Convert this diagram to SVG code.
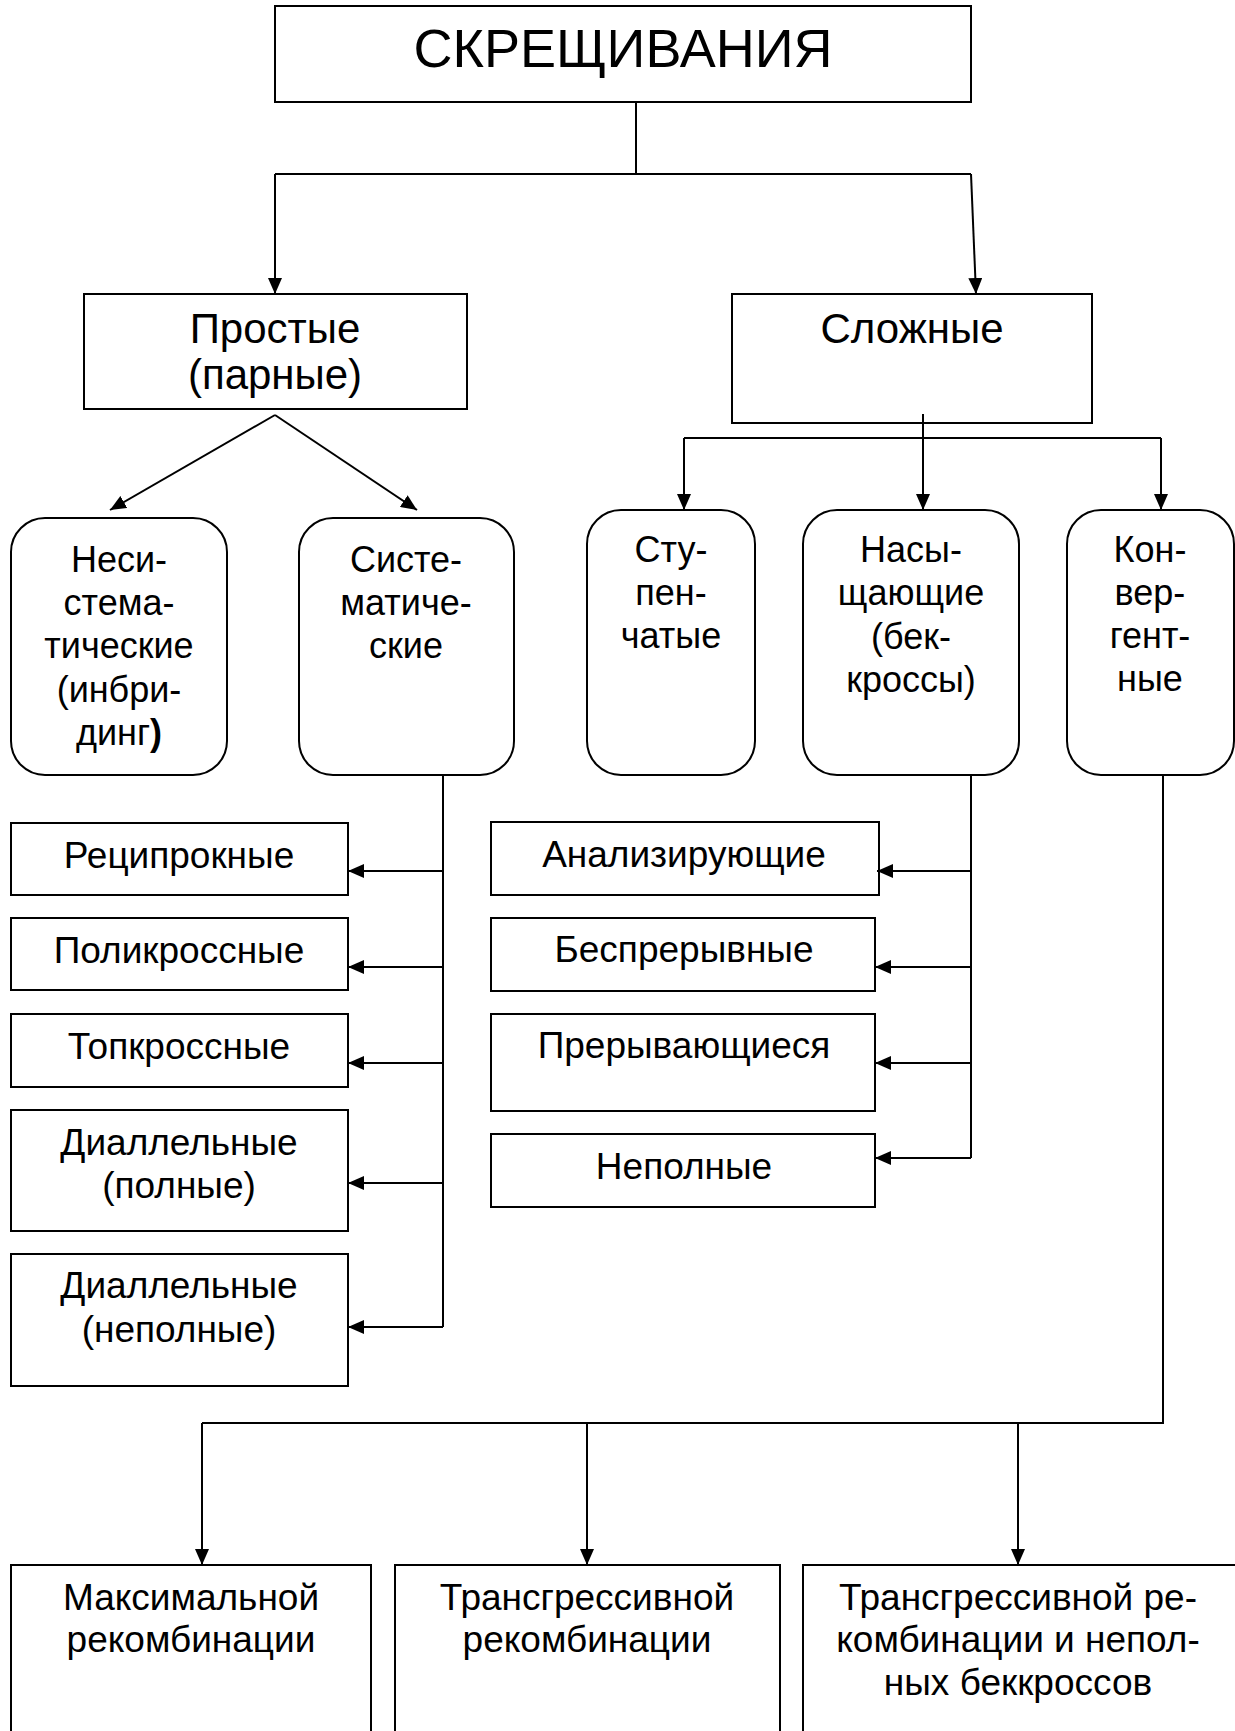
<svg xmlns="http://www.w3.org/2000/svg" width="1235" height="1731" viewBox="0 0 1235 1731">
<style>
.box{fill:#fff;stroke:#000;stroke-width:2}
.t{font-family:"Liberation Sans",Arial,sans-serif;font-size:36px;text-anchor:middle;fill:#000}
.t37{font-size:37px}
.t42{font-size:42px}
.t54{font-size:54px}
.c{fill:none;stroke:#000;stroke-width:2}
</style>
<defs>
<marker id="ah" markerUnits="userSpaceOnUse" markerWidth="16" markerHeight="14" refX="16" refY="7" orient="auto">
<path d="M0,0 L16,7 L0,14 z" fill="#000"/>
</marker>
</defs>
<rect width="1235" height="1731" fill="#fff"/>
<g id="root"><rect class="box" x="275" y="6" width="696" height="96"/><text class="t t54" x="623" y="67">СКРЕЩИВАНИЯ</text></g>
<g id="simple"><rect class="box" x="84" y="294" width="383" height="115"/><text class="t t42" x="275" y="343">Простые</text><text class="t t42" x="275" y="389">(парные)</text></g>
<g id="complex"><rect class="box" x="732" y="294" width="360" height="129"/><text class="t t42" x="912" y="343">Сложные</text></g>
<g id="nonsystematic"><rect class="box" x="11" y="518" width="216" height="257" rx="34" ry="34"/><text class="t" x="119"><tspan x="119" y="572">Неси-</tspan><tspan x="119" y="615">стема-</tspan><tspan x="119" y="658">тические</tspan><tspan x="119" y="702">(инбри-</tspan><tspan x="119" y="745">динг<tspan font-weight="bold">)</tspan></tspan></text></g>
<g id="systematic"><rect class="box" x="299" y="518" width="215" height="257" rx="34" ry="34"/><text class="t" x="406"><tspan x="406" y="572">Систе-</tspan><tspan x="406" y="615">матиче-</tspan><tspan x="406" y="658">ские</tspan></text></g>
<g id="stepwise"><rect class="box" x="587" y="510" width="168" height="265" rx="34" ry="34"/><text class="t" x="671"><tspan x="671" y="562">Сту-</tspan><tspan x="671" y="605">пен-</tspan><tspan x="671" y="648">чатые</tspan></text></g>
<g id="saturating"><rect class="box" x="803" y="510" width="216" height="265" rx="34" ry="34"/><text class="t" x="911"><tspan x="911" y="562">Насы-</tspan><tspan x="911" y="605">щающие</tspan><tspan x="911" y="649">(бек-</tspan><tspan x="911" y="692">кроссы)</tspan></text></g>
<g id="convergent"><rect class="box" x="1067" y="510" width="167" height="265" rx="34" ry="34"/><text class="t" x="1150"><tspan x="1150" y="562">Кон-</tspan><tspan x="1150" y="605">вер-</tspan><tspan x="1150" y="648">гент-</tspan><tspan x="1150" y="691">ные</tspan></text></g>
<g id="reciprocal"><rect class="box" x="11" y="823" width="337" height="72"/><text class="t t37" x="179" y="868">Реципрокные</text></g>
<g id="polycross"><rect class="box" x="11" y="918" width="337" height="72"/><text class="t t37" x="179" y="963">Поликроссные</text></g>
<g id="topcross"><rect class="box" x="11" y="1014" width="337" height="73"/><text class="t t37" x="179" y="1059">Топкроссные</text></g>
<g id="diallel-full"><rect class="box" x="11" y="1110" width="337" height="121"/><text class="t t37" x="179"><tspan x="179" y="1155">Диаллельные</tspan><tspan x="179" y="1198">(полные)</tspan></text></g>
<g id="diallel-partial"><rect class="box" x="11" y="1254" width="337" height="132"/><text class="t t37" x="179"><tspan x="179" y="1298">Диаллельные</tspan><tspan x="179" y="1342">(неполные)</tspan></text></g>
<g id="analyzing"><rect class="box" x="491" y="822" width="388" height="73"/><text class="t t37" x="684" y="867">Анализирующие</text></g>
<g id="continuous"><rect class="box" x="491" y="918" width="384" height="73"/><text class="t t37" x="684" y="962">Беспрерывные</text></g>
<g id="interrupted"><rect class="box" x="491" y="1014" width="384" height="97"/><text class="t t37" x="684" y="1058">Прерывающиеся</text></g>
<g id="incomplete"><rect class="box" x="491" y="1134" width="384" height="73"/><text class="t t37" x="684" y="1179">Неполные</text></g>
<g id="max-recomb"><rect class="box" x="11" y="1565" width="360" height="200"/><text class="t t37" x="191"><tspan x="191" y="1610">Максимальной</tspan><tspan x="191" y="1652">рекомбинации</tspan></text></g>
<g id="transgressive"><rect class="box" x="395" y="1565" width="385" height="200"/><text class="t t37" x="587"><tspan x="587" y="1610">Трансгрессивной</tspan><tspan x="587" y="1652">рекомбинации</tspan></text></g>
<g id="transgressive-backcross"><rect class="box" x="803" y="1565" width="440" height="200"/><text class="t t37" x="1018"><tspan x="1018" y="1610">Трансгрессивной ре-</tspan><tspan x="1018" y="1652">комбинации и непол-</tspan><tspan x="1018" y="1695">ных беккроссов</tspan></text></g>
<g id="connectors">
<path class="c" d="M636,102 V174 M275,174 H971 M684,438 H1161 M443,775 V1327 M971,775 V1158 M1163,775 V1423 H202"/>
<path class="c" d="M275,174 V294" marker-end="url(#ah)"/>
<path class="c" d="M971,174 L976,294" marker-end="url(#ah)"/>
<path class="c" d="M275,415 L110,510" marker-end="url(#ah)"/>
<path class="c" d="M275,415 L417,510" marker-end="url(#ah)"/>
<path class="c" d="M923,414 V510" marker-end="url(#ah)"/>
<path class="c" d="M684,438 V510" marker-end="url(#ah)"/>
<path class="c" d="M1161,438 V510" marker-end="url(#ah)"/>
<path class="c" d="M443,871 H348" marker-end="url(#ah)"/>
<path class="c" d="M443,967 H348" marker-end="url(#ah)"/>
<path class="c" d="M443,1063 H348" marker-end="url(#ah)"/>
<path class="c" d="M443,1183 H348" marker-end="url(#ah)"/>
<path class="c" d="M443,1327 H348" marker-end="url(#ah)"/>
<path class="c" d="M971,871 H877" marker-end="url(#ah)"/>
<path class="c" d="M971,967 H875" marker-end="url(#ah)"/>
<path class="c" d="M971,1063 H875" marker-end="url(#ah)"/>
<path class="c" d="M971,1158 H875" marker-end="url(#ah)"/>
<path class="c" d="M202,1423 V1565" marker-end="url(#ah)"/>
<path class="c" d="M587,1423 V1565" marker-end="url(#ah)"/>
<path class="c" d="M1018,1423 V1565" marker-end="url(#ah)"/>
</g>
</svg>
